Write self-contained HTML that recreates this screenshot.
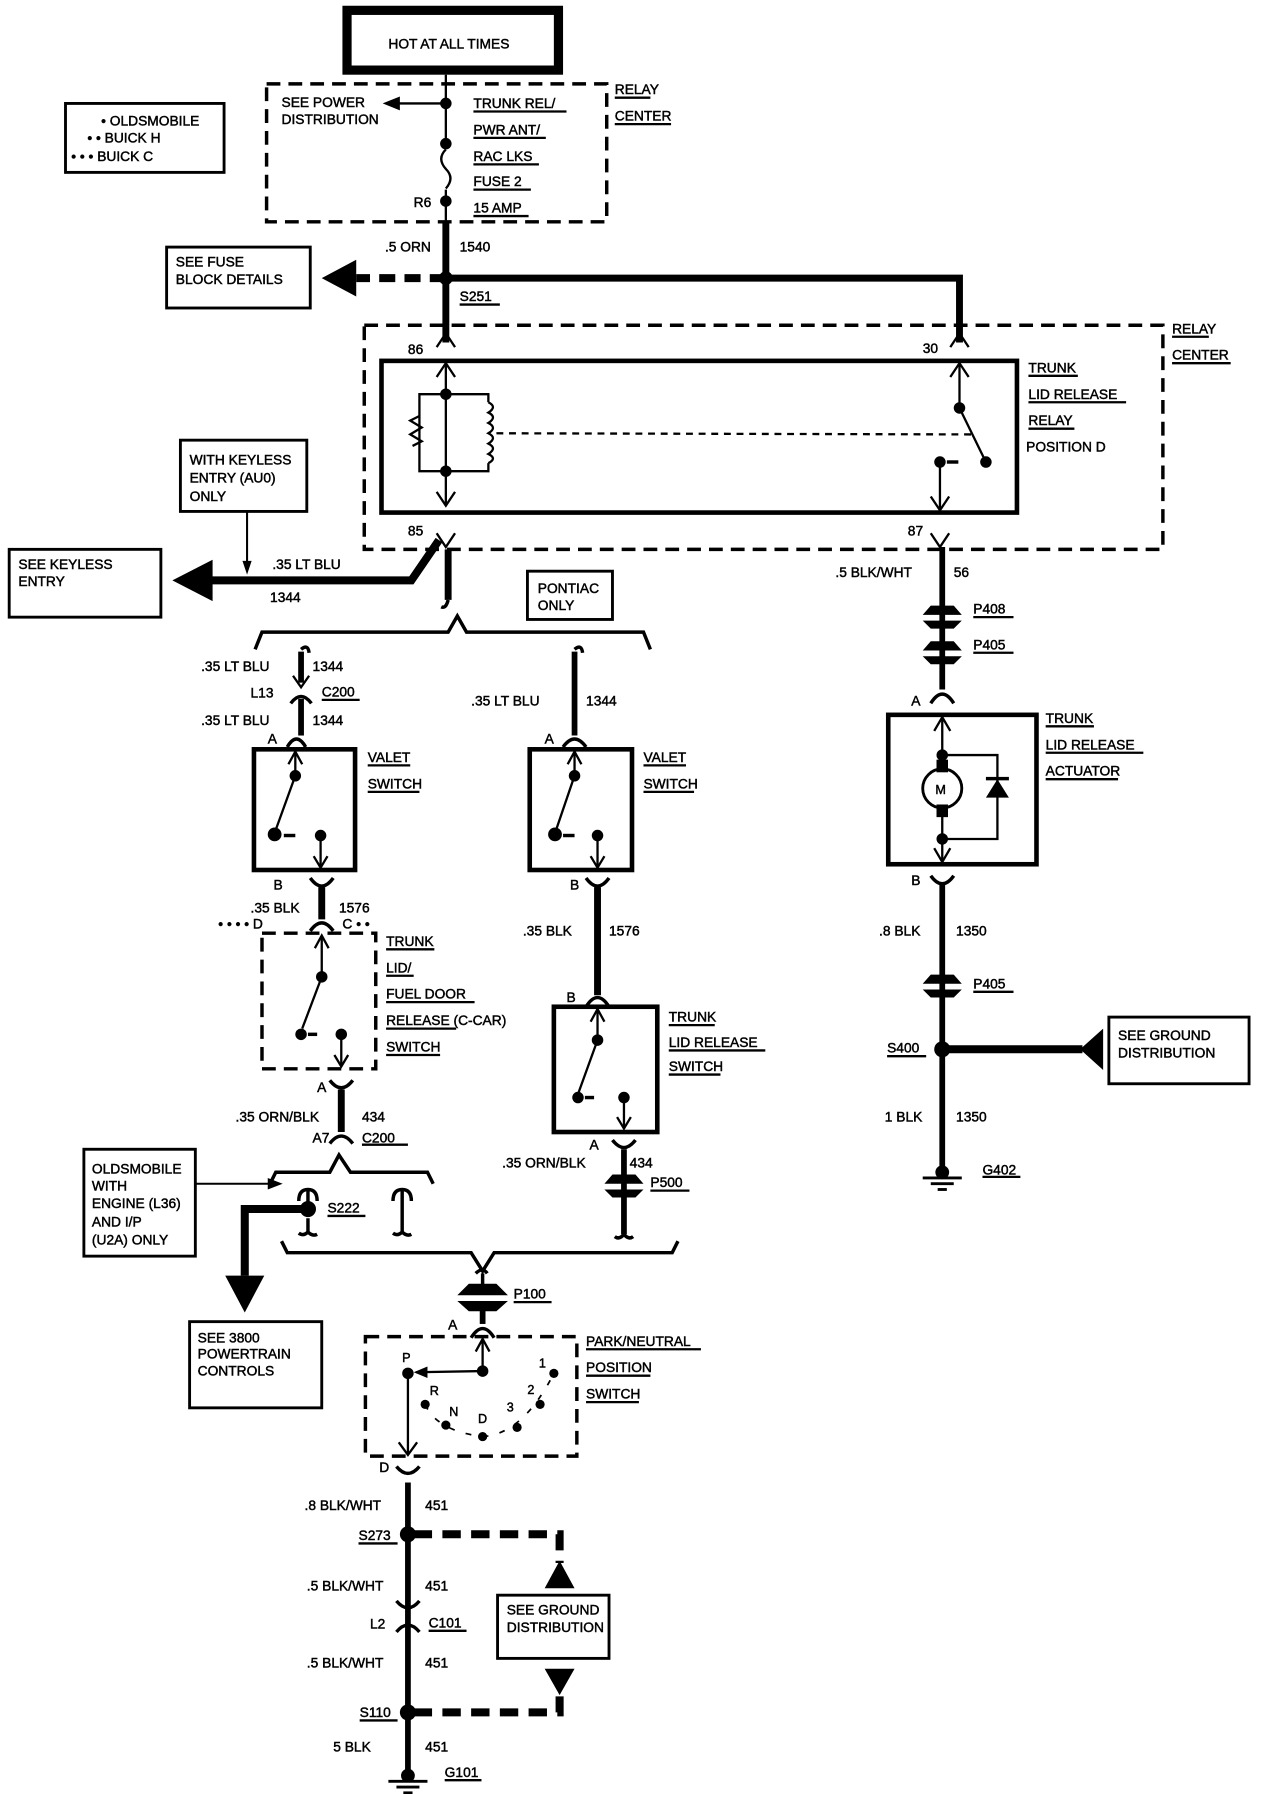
<!DOCTYPE html>
<html><head><meta charset="utf-8"><style>
html,body{margin:0;padding:0;background:#fff}
svg{display:block}
text{font-family:"Liberation Sans",sans-serif;font-size:12px;fill:#000;stroke:#000;stroke-width:0.4}
</style></head><body>
<svg width="1264" height="1794" viewBox="0 0 1100 1561" preserveAspectRatio="none" xmlns="http://www.w3.org/2000/svg">
<g fill="none" stroke="#000">
<rect x="302" y="9" width="184" height="52" stroke-width="8"/>
<rect x="57" y="90" width="138" height="60" stroke-width="2.5"/>
<rect x="232" y="73" width="296" height="120" stroke-width="3" stroke-dasharray="12,7"/>
<line x1="388" y1="65" x2="388" y2="125" stroke-width="2"/>
<line x1="388" y1="90" x2="345" y2="90" stroke-width="2"/>
<path d="M388 130 q-8 8 0 17 q8 8 0 17" stroke-width="2"/>
<line x1="388" y1="165" x2="388" y2="193" stroke-width="2"/>
<line x1="388" y1="193" x2="388" y2="298" stroke-width="6"/>
<line x1="388" y1="242" x2="310" y2="242" stroke-width="7" stroke-dasharray="14,8"/>
<polyline points="388,242 835,242 835,298" stroke-width="6"/>
<rect x="145" y="215" width="125" height="53" stroke-width="2.5"/>
<rect x="317" y="283" width="695" height="195" stroke-width="3" stroke-dasharray="12,7"/>
<rect x="332" y="314" width="553" height="132" stroke-width="4"/>
<path d="M380 302 L388 290 L396 302 M827 302 L835 290 L843 302" stroke-width="2"/>
<path d="M380 464 L388 476 L396 464 M810 464 L818 476 L826 464" stroke-width="2"/>
<line x1="388" y1="290" x2="388" y2="283" stroke-width="5"/>
<line x1="388" y1="316" x2="388" y2="440" stroke-width="2"/>
<path d="M380 328 L388 316 L396 328 M380 428 L388 440 L396 428" stroke-width="2"/>
<path d="M388 343 L365 343 L365 410 L388 410 M388 343 L425 343 L425 350 M425 403 L425 410 L388 410" stroke-width="2"/>
<path d="M365 362 l-8 4 l10 6 l-10 6 l10 6 l-8 4" stroke-width="2"/>
<path d="M425 350 q8 4 0 9 q8 4 0 9 q8 4 0 9 q8 4 0 9 q8 4 0 9 q8 4 0 8" stroke-width="2"/>
<line x1="432" y1="377" x2="845" y2="378" stroke-width="2" stroke-dasharray="6,5"/>
<line x1="835" y1="316" x2="835" y2="355" stroke-width="2"/>
<path d="M827 328 L835 316 L843 328" stroke-width="2"/>
<line x1="835" y1="355" x2="856" y2="398" stroke-width="2"/>
<line x1="818" y1="402" x2="818" y2="444" stroke-width="2"/>
<line x1="824" y1="402" x2="834" y2="402" stroke-width="3"/>
<path d="M810 432 L818 444 L826 432" stroke-width="2"/>
<polyline points="382,470 358,505 182,505" stroke-width="7"/>
<rect x="157" y="383" width="110" height="62" stroke-width="2.5"/>
<line x1="215" y1="445" x2="215" y2="495" stroke-width="1.8"/>
<rect x="8" y="478" width="132" height="59" stroke-width="2.5"/>
<line x1="390" y1="478" x2="390" y2="522" stroke-width="6"/>
<path d="M390 522 q-2 8 -6 6" stroke-width="3"/>
<path d="M222 565 L228 550 L390 550 L398 536 L406 550 L560 550 L566 565" stroke-width="3"/>
<rect x="459" y="497" width="74" height="42" stroke-width="2.5"/>
<!-- left branch -->
<path d="M262 565 q6 -5 7 3" stroke-width="3"/>
<line x1="262" y1="567" x2="262" y2="594" stroke-width="5"/>
<path d="M255 588 L262 598 L269 588" stroke-width="2"/>
<path d="M253 612 Q262 600 271 612" stroke-width="3"/>
<line x1="262" y1="608" x2="262" y2="640" stroke-width="5"/>
<path d="M250 650 Q258 636 266 650" stroke-width="3"/>
<rect x="221" y="652" width="88" height="105" stroke-width="4"/>
<line x1="257" y1="654" x2="257" y2="675" stroke-width="2"/>
<path d="M251 665 L257 654 L263 665" stroke-width="2"/>
<line x1="257" y1="675" x2="240" y2="722" stroke-width="2"/>
<line x1="279" y1="727" x2="279" y2="755" stroke-width="2"/>
<path d="M273 745 L279 755 L285 745" stroke-width="2"/>
<line x1="247" y1="727" x2="257" y2="727" stroke-width="3"/>
<path d="M270 764 Q280 778 290 764" stroke-width="3"/>
<line x1="280" y1="772" x2="280" y2="800" stroke-width="6"/>
<path d="M270 810 Q280 796 290 810" stroke-width="3"/>
<rect x="228" y="812" width="99" height="118" stroke-width="3" stroke-dasharray="12,7"/>
<line x1="280" y1="814" x2="280" y2="850" stroke-width="2"/>
<path d="M274 825 L280 814 L286 825" stroke-width="2"/>
<line x1="280" y1="850" x2="263" y2="895" stroke-width="2"/>
<line x1="297" y1="900" x2="297" y2="928" stroke-width="2"/>
<path d="M291 918 L297 928 L303 918" stroke-width="2"/>
<line x1="268" y1="900" x2="276" y2="900" stroke-width="3"/>
<path d="M287 940 Q297 953 307 940" stroke-width="3"/>
<line x1="297" y1="948" x2="297" y2="985" stroke-width="6"/>
<path d="M287 995 Q297 982 307 995" stroke-width="3"/>
<path d="M235 1030 L240 1020 L287 1020 L295 1005 L305 1020 L372 1020 L377 1030" stroke-width="3"/>
<rect x="73" y="1000" width="97" height="93" stroke-width="2.5"/>
<line x1="170" y1="1030" x2="235" y2="1030" stroke-width="1.8"/>
<path d="M260 1045 q0 -10 8 -10 q8 0 8 10 M268 1036 L268 1047" stroke-width="3"/>
<path d="M268 1060 L268 1072 q-4 4 -8 1 M268 1072 q4 4 8 2" stroke-width="3"/>
<polyline points="263,1052 213,1052 213,1110" stroke-width="7"/>
<path d="M342 1045 q0 -10 8 -10 q8 0 8 10 M350 1036 L350 1072 q-4 4 -8 1 M350 1072 q4 4 8 2" stroke-width="3"/>
<rect x="165" y="1150" width="115" height="75" stroke-width="2.5"/>
<!-- middle branch -->
<path d="M500 565 q6 -5 7 3" stroke-width="3"/>
<line x1="500" y1="567" x2="500" y2="640" stroke-width="5"/>
<path d="M490 650 Q500 636 510 650" stroke-width="3"/>
<rect x="461" y="652" width="89" height="105" stroke-width="4"/>
<line x1="500" y1="654" x2="500" y2="675" stroke-width="2"/>
<path d="M494 665 L500 654 L506 665" stroke-width="2"/>
<line x1="500" y1="675" x2="484" y2="722" stroke-width="2"/>
<line x1="520" y1="727" x2="520" y2="755" stroke-width="2"/>
<path d="M514 745 L520 755 L526 745" stroke-width="2"/>
<line x1="490" y1="727" x2="500" y2="727" stroke-width="3"/>
<path d="M510 764 Q520 778 530 764" stroke-width="3"/>
<line x1="520" y1="772" x2="520" y2="866" stroke-width="6"/>
<path d="M510 876 Q520 860 530 876" stroke-width="3"/>
<rect x="482" y="876" width="90" height="109" stroke-width="4"/>
<line x1="520" y1="878" x2="520" y2="905" stroke-width="2"/>
<path d="M514 889 L520 878 L526 889" stroke-width="2"/>
<line x1="520" y1="905" x2="503" y2="952" stroke-width="2"/>
<line x1="543" y1="955" x2="543" y2="982" stroke-width="2"/>
<path d="M537 972 L543 982 L549 972" stroke-width="2"/>
<line x1="509" y1="955" x2="517" y2="955" stroke-width="3"/>
<path d="M533 992 Q543 1005 553 992" stroke-width="3"/>
<line x1="543" y1="1000" x2="543" y2="1074" stroke-width="5"/>
<path d="M543 1074 q-4 5 -8 2 M543 1074 q4 5 8 2" stroke-width="3"/>
<path d="M245 1080 L250 1090 L410 1090 L420 1106 L430 1090 L585 1090 L590 1080" stroke-width="3"/>
<path d="M414 1108 q6 -6 10 0 M420 1108 L420 1118" stroke-width="3"/>
<line x1="420" y1="1140" x2="420" y2="1152" stroke-width="5"/>
<path d="M410 1164 Q420 1148 430 1164" stroke-width="3"/>
<rect x="318" y="1163" width="184" height="104" stroke-width="3" stroke-dasharray="12,7"/>
<line x1="420" y1="1165" x2="420" y2="1193" stroke-width="2"/>
<path d="M414 1176 L420 1165 L426 1176" stroke-width="2"/>
<line x1="420" y1="1193" x2="362" y2="1194" stroke-width="2"/>
<line x1="355" y1="1195" x2="355" y2="1265" stroke-width="2"/>
<path d="M347 1255 L355 1266 L363 1255" stroke-width="2"/>
<path d="M370 1222 Q380 1245 420 1250 Q455 1248 482 1195" stroke-width="1.5" stroke-dasharray="5,10"/>
<path d="M345 1288 Q355 1276 365 1288" stroke-width="3" transform="rotate(180 355 1282)"/>
<line x1="355" y1="1290" x2="355" y2="1545" stroke-width="5"/>
<polyline points="360,1335 487,1335 487,1360" stroke-width="7" stroke-dasharray="16,9"/>
<polyline points="360,1490 487,1490 487,1475" stroke-width="7" stroke-dasharray="16,9"/>
<rect x="433" y="1388" width="97" height="55" stroke-width="2.5"/>
<path d="M345 1405 Q355 1393 365 1405" stroke-width="3" transform="rotate(180 355 1399)"/>
<path d="M345 1420 Q355 1408 365 1420" stroke-width="3"/>
<line x1="820" y1="476" x2="820" y2="600" stroke-width="5"/>
<path d="M810 612 Q820 596 830 612" stroke-width="3"/>
<rect x="773" y="622" width="129" height="130" stroke-width="4"/>
<line x1="820" y1="624" x2="820" y2="750" stroke-width="2"/>
<path d="M813 636 L820 624 L827 636 M813 738 L820 750 L827 738" stroke-width="2"/>
<circle cx="820" cy="686" r="17" stroke-width="2.5" fill="#fff"/>
<polyline points="820,657 868,657 868,730 820,730" stroke-width="2"/>
<path d="M810 762 Q820 776 830 762" stroke-width="3"/>
<line x1="820" y1="770" x2="820" y2="1020" stroke-width="5"/>
<line x1="825" y1="913" x2="942" y2="913" stroke-width="7"/>
<rect x="965" y="885" width="122" height="58" stroke-width="2.5"/>
</g>
<g fill="#000">
<circle cx="388" cy="90" r="5"/><circle cx="388" cy="125" r="5"/><circle cx="388" cy="175" r="5"/>
<polygon points="333,90 348,84 348,96"/>
<circle cx="388" cy="242" r="6"/>
<polygon points="280,242 310,226 310,258"/>
<circle cx="388" cy="343" r="5"/><circle cx="388" cy="410" r="5"/>
<circle cx="835" cy="355" r="5"/><circle cx="858" cy="402" r="5"/><circle cx="818" cy="402" r="5"/>
<polygon points="150,505 185,487 185,523"/>
<polygon points="215,500 211,488 219,488"/>
<circle cx="257" cy="675" r="5"/><circle cx="239" cy="726" r="6"/><circle cx="279" cy="727" r="5"/>
<circle cx="280" cy="850" r="5"/><circle cx="262" cy="900" r="5"/><circle cx="297" cy="900" r="5"/>
<circle cx="500" cy="675" r="5"/><circle cx="483" cy="726" r="6"/><circle cx="520" cy="727" r="5"/>
<circle cx="520" cy="905" r="5"/><circle cx="503" cy="955" r="5"/><circle cx="543" cy="955" r="5"/>
<polygon points="246,1030 233,1025 233,1035"/>
<circle cx="268" cy="1052" r="7"/>
<polygon points="213,1142 196,1110 230,1110"/>
<circle cx="420" cy="1193" r="5"/><circle cx="355" cy="1195" r="5"/>
<polygon points="360,1194 372,1189 372,1199"/>
<circle cx="370" cy="1222" r="4"/><circle cx="388" cy="1240" r="4"/><circle cx="420" cy="1250" r="4"/>
<circle cx="450" cy="1242" r="4"/><circle cx="470" cy="1222" r="4"/><circle cx="482" cy="1195" r="4"/>
<circle cx="355" cy="1335" r="7"/><circle cx="355" cy="1490" r="7"/>
<polygon points="487,1358 474,1382 500,1382"/>
<polygon points="487,1475 474,1452 500,1452"/>
<rect x="815" y="661" width="10" height="11"/><rect x="815" y="700" width="10" height="11"/>
<circle cx="820" cy="657" r="5"/><circle cx="820" cy="730" r="5"/>
<polygon points="868,678 858,694 878,694"/><rect x="858" y="676" width="20" height="3"/>
<circle cx="820" cy="913" r="7"/>
<polygon points="940,913 960,895 960,931"/>
<path d="M803 535 L810 527 L830 527 L837 535 Z M803 540 L837 540 L830 547 L810 547 Z"/>
<path d="M803 566 L810 558 L830 558 L837 566 Z M803 571 L837 571 L830 578 L810 578 Z"/>
<path d="M803 856 L810 848 L830 848 L837 856 Z M803 861 L837 861 L830 868 L810 868 Z"/>
<path d="M526 1030 L533 1022 L553 1022 L560 1030 Z M526 1035 L560 1035 L553 1042 L533 1042 Z"/>
<path d="M398 1127 L408 1117 L432 1117 L442 1127 Z M398 1132 L442 1132 L432 1141 L408 1141 Z"/>
<circle cx="355" cy="1545" r="6"/><circle cx="820" cy="1020" r="6"/>
</g>
<g stroke="#000" stroke-width="2.5">
<line x1="338" y1="1550" x2="372" y2="1550"/><line x1="345" y1="1555" x2="365" y2="1555"/><line x1="351" y1="1560" x2="359" y2="1560"/>
<line x1="803" y1="1025" x2="837" y2="1025"/><line x1="810" y1="1030" x2="830" y2="1030"/><line x1="816" y1="1035" x2="824" y2="1035"/>
</g>
<g stroke="#000" stroke-width="2">
<line x1="412" y1="97" x2="493" y2="97"/><line x1="412" y1="120" x2="475" y2="120"/><line x1="412" y1="143" x2="469" y2="143"/><line x1="412" y1="165" x2="462" y2="165"/><line x1="412" y1="188" x2="460" y2="188"/>
<line x1="535" y1="85" x2="566" y2="85"/><line x1="535" y1="108" x2="584" y2="108"/>
<line x1="1020" y1="293" x2="1052" y2="293"/><line x1="1020" y1="316" x2="1071" y2="316"/>
<line x1="895" y1="327" x2="938" y2="327"/><line x1="895" y1="350" x2="980" y2="350"/><line x1="895" y1="373" x2="935" y2="373"/>
<line x1="400" y1="265" x2="435" y2="265"/>
<line x1="280" y1="609" x2="313" y2="609"/>
<line x1="320" y1="666" x2="357" y2="666"/><line x1="320" y1="689" x2="365" y2="689"/><line x1="560" y1="666" x2="597" y2="666"/><line x1="560" y1="689" x2="604" y2="689"/>
<line x1="336" y1="826" x2="378" y2="826"/><line x1="336" y1="849" x2="360" y2="849"/><line x1="336" y1="872" x2="413" y2="872"/><line x1="336" y1="895" x2="397" y2="895"/><line x1="336" y1="918" x2="383" y2="918"/>
<line x1="315" y1="996" x2="355" y2="996"/>
<line x1="285" y1="1058" x2="318" y2="1058"/>
<line x1="582" y1="892" x2="622" y2="892"/><line x1="582" y1="914" x2="666" y2="914"/><line x1="582" y1="935" x2="627" y2="935"/>
<line x1="566" y1="1036" x2="600" y2="1036"/><line x1="447" y1="1133" x2="480" y2="1133"/>
<line x1="510" y1="1174" x2="610" y2="1174"/><line x1="510" y1="1197" x2="566" y2="1197"/><line x1="510" y1="1220" x2="556" y2="1220"/>
<line x1="312" y1="1343" x2="346" y2="1343"/><line x1="373" y1="1419" x2="406" y2="1419"/><line x1="313" y1="1497" x2="346" y2="1497"/><line x1="387" y1="1549" x2="419" y2="1549"/>
<line x1="847" y1="537" x2="882" y2="537"/><line x1="847" y1="568" x2="882" y2="568"/>
<line x1="910" y1="632" x2="952" y2="632"/><line x1="910" y1="655" x2="995" y2="655"/><line x1="910" y1="678" x2="973" y2="678"/>
<line x1="847" y1="863" x2="882" y2="863"/><line x1="772" y1="919" x2="806" y2="919"/><line x1="855" y1="1024" x2="888" y2="1024"/>
</g>
<g>
<text x="338" y="42">HOT AT ALL TIMES</text>
<text x="88" y="109">• OLDSMOBILE</text>
<text x="76" y="124">• • BUICK H</text>
<text x="62" y="140">• • • BUICK C</text>
<text x="245" y="93">SEE POWER</text><text x="245" y="108">DISTRIBUTION</text>
<text x="412" y="94">TRUNK REL/</text><text x="412" y="117">PWR ANT/</text><text x="412" y="140">RAC LKS</text><text x="412" y="162">FUSE 2</text><text x="412" y="185">15 AMP</text>
<text x="360" y="180">R6</text>
<text x="535" y="82">RELAY</text><text x="535" y="105">CENTER</text>
<text x="335" y="219">.5 ORN</text><text x="400" y="219">1540</text>
<text x="153" y="232">SEE FUSE</text><text x="153" y="247">BLOCK DETAILS</text>
<text x="400" y="262">S251</text>
<text x="1020" y="290">RELAY</text><text x="1020" y="313">CENTER</text>
<text x="355" y="308">86</text><text x="803" y="307">30</text>
<text x="895" y="324">TRUNK</text><text x="895" y="347">LID RELEASE</text><text x="895" y="370">RELAY</text><text x="893" y="393">POSITION D</text>
<text x="355" y="466">85</text><text x="790" y="466">87</text>
<text x="165" y="404">WITH KEYLESS</text><text x="165" y="420">ENTRY (AU0)</text><text x="165" y="436">ONLY</text>
<text x="16" y="495">SEE KEYLESS</text><text x="16" y="510">ENTRY</text>
<text x="237" y="495">.35 LT BLU</text><text x="235" y="524">1344</text>
<text x="468" y="516">PONTIAC</text><text x="468" y="531">ONLY</text>
<text x="727" y="502">.5 BLK/WHT</text><text x="830" y="502">56</text>
<text x="847" y="534">P408</text><text x="847" y="565">P405</text>
<text x="175" y="584">.35 LT BLU</text><text x="272" y="584">1344</text>
<text x="218" y="607">L13</text><text x="280" y="606">C200</text>
<text x="175" y="631">.35 LT BLU</text><text x="272" y="631">1344</text>
<text x="410" y="614">.35 LT BLU</text><text x="510" y="614">1344</text>
<text x="233" y="647">A</text><text x="474" y="647">A</text><text x="793" y="614">A</text>
<text x="320" y="663">VALET</text><text x="320" y="686">SWITCH</text>
<text x="560" y="663">VALET</text><text x="560" y="686">SWITCH</text>
<text x="910" y="629">TRUNK</text><text x="910" y="652">LID RELEASE</text><text x="910" y="675">ACTUATOR</text>
<text x="814" y="691" style="font-size:11px">M</text>
<text x="238" y="774">B</text><text x="496" y="774">B</text><text x="793" y="770">B</text>
<text x="218" y="794">.35 BLK</text><text x="295" y="794">1576</text>
<text x="190" y="808">• • • • D</text><text x="298" y="808">C • •</text>
<text x="455" y="814">.35 BLK</text><text x="530" y="814">1576</text>
<text x="765" y="814">.8 BLK</text><text x="832" y="814">1350</text>
<text x="336" y="823">TRUNK</text><text x="336" y="846">LID/</text><text x="336" y="869">FUEL DOOR</text><text x="336" y="892">RELEASE (C-CAR)</text><text x="336" y="915">SWITCH</text>
<text x="847" y="860">P405</text>
<text x="493" y="872">B</text>
<text x="582" y="889">TRUNK</text><text x="582" y="911">LID RELEASE</text><text x="582" y="932">SWITCH</text>
<text x="973" y="905">SEE GROUND</text><text x="973" y="920">DISTRIBUTION</text>
<text x="772" y="916">S400</text>
<text x="276" y="950">A</text>
<text x="205" y="976">.35 ORN/BLK</text><text x="315" y="976">434</text>
<text x="770" y="976">1 BLK</text><text x="832" y="976">1350</text>
<text x="272" y="994">A7</text><text x="315" y="994">C200</text>
<text x="513" y="1000">A</text>
<text x="437" y="1016">.35 ORN/BLK</text><text x="548" y="1016">434</text>
<text x="80" y="1021">OLDSMOBILE</text><text x="80" y="1036">WITH</text><text x="80" y="1051">ENGINE (L36)</text><text x="80" y="1067">AND I/P</text><text x="80" y="1083">(U2A) ONLY</text>
<text x="855" y="1022">G402</text>
<text x="566" y="1033">P500</text>
<text x="285" y="1055">S222</text>
<text x="447" y="1130">P100</text>
<text x="172" y="1168">SEE 3800</text><text x="172" y="1182">POWERTRAIN</text><text x="172" y="1197">CONTROLS</text>
<text x="390" y="1157">A</text>
<text x="510" y="1171">PARK/NEUTRAL</text><text x="510" y="1194">POSITION</text><text x="510" y="1217">SWITCH</text>
<text x="350" y="1185" style="font-size:11px">P</text><text x="374" y="1214" style="font-size:11px">R</text><text x="391" y="1232" style="font-size:11px">N</text><text x="416" y="1238" style="font-size:11px">D</text><text x="441" y="1228" style="font-size:11px">3</text><text x="459" y="1213" style="font-size:11px">2</text><text x="469" y="1190" style="font-size:11px">1</text>
<text x="330" y="1281">D</text>
<text x="265" y="1314">.8 BLK/WHT</text><text x="370" y="1314">451</text>
<text x="312" y="1340">S273</text>
<text x="267" y="1384">.5 BLK/WHT</text><text x="370" y="1384">451</text>
<text x="441" y="1405">SEE GROUND</text><text x="441" y="1420">DISTRIBUTION</text>
<text x="322" y="1417">L2</text><text x="373" y="1416">C101</text>
<text x="267" y="1451">.5 BLK/WHT</text><text x="370" y="1451">451</text>
<text x="313" y="1494">S110</text>
<text x="290" y="1524">5 BLK</text><text x="370" y="1524">451</text>
<text x="387" y="1546">G101</text>
</g>
</svg>
</body></html>
